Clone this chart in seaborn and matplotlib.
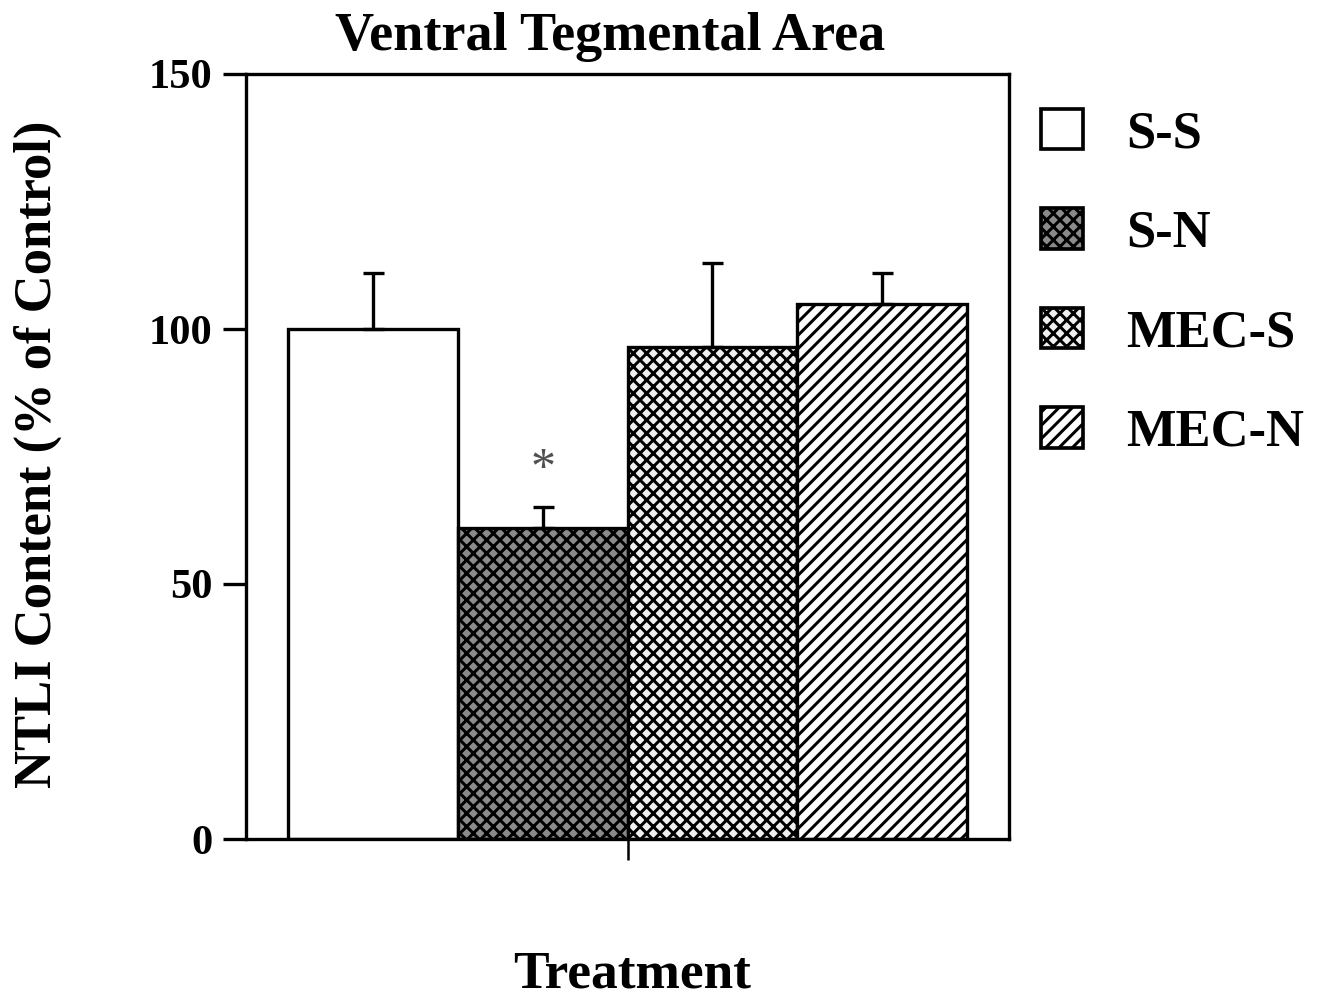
import matplotlib
matplotlib.use("Agg")
import matplotlib.pyplot as plt
import seaborn as sns
import pandas as pd
from matplotlib.patches import Patch

# ---- data ----
groups = ["S-S", "S-N", "MEC-S", "MEC-N"]
means = [100, 61, 96.5, 105]
sems = [11, 4, 16.5, 6]
yticks = [0, 50, 100, 150]
title = "Ventral Tegmental Area"
xlabel = "Treatment"
ylabel = "NTLI Content (% of Control)"

# ---- styles ----
faces = ["#ffffff", "#8a8a8a", "#f0f0f0", "#ffffff"]
hatches = ["", "xxx", "xxx", "///"]

sns.set_theme(style="white")
plt.rcParams["font.family"] = ["Liberation Serif", "DejaVu Serif"]
plt.rcParams["font.weight"] = "bold"
plt.rcParams["text.color"] = "black"
plt.rcParams["axes.labelcolor"] = "black"
plt.rcParams["xtick.color"] = "black"
plt.rcParams["ytick.color"] = "black"
plt.rcParams["hatch.linewidth"] = 1.8
plt.rcParams["hatch.color"] = "black"

DPI = 120
fig = plt.figure(figsize=(1319 / DPI, 998 / DPI), dpi=DPI)
ax = fig.add_axes([246 / 1319, 1 - 839 / 998, (1009 - 246) / 1319, (839 - 74) / 998])

df = pd.DataFrame({"Treatment": [""] * len(groups), "Group": groups, "Value": means})
sns.barplot(data=df, x="Treatment", y="Value", hue="Group", hue_order=groups,
            palette=faces, saturation=1, edgecolor="black", linewidth=2.0,
            errorbar=None, legend=False, ax=ax)

centers = []
for i, cont in enumerate(ax.containers):
    for p in cont.patches:
        p.set_hatch(hatches[i])
        p.set_facecolor(faces[i])
        p.set_edgecolor("black")
        centers.append(p.get_x() + p.get_width() / 2)

ax.errorbar(centers, means, yerr=[[0] * len(sems), sems], fmt="none",
            ecolor="black", elinewidth=2.0, capsize=6.3, capthick=2.0, zorder=5)

# significance marker above S-N
ax.text(centers[1], means[1] + sems[1] + 7.5, "*", ha="center", va="center",
        fontsize=30, fontweight="normal", color="#505050")

ax.set_ylim(0, 150)
ax.set_xlim(-0.45, 0.45)
ax.set_yticks(yticks)
ax.set_yticklabels([str(t) for t in yticks], fontsize=25.5, fontweight="bold", color="black")
ax.set_xticks([0])
ax.set_xticklabels([""])
ax.set_xlabel("")
ax.set_ylabel("")
ax.tick_params(axis="y", direction="out", length=14, width=2, pad=6, color="black", left=True)
ax.tick_params(axis="x", direction="out", length=12.5, width=1.5, color="black", bottom=True)
for s in ax.spines.values():
    s.set_visible(True)
    s.set_color("black")
    s.set_linewidth(2.0)

fig.text(610 / 1319, 1 - 50 / 998, title, ha="center", va="baseline",
         fontsize=32.5, fontweight="bold", color="black")
fig.text(632 / 1319, 1 - 988 / 998, xlabel, ha="center", va="baseline",
         fontsize=32, fontweight="bold", color="black")
fig.text(38 / 1319, 1 - 454 / 998, ylabel, ha="center", va="center", rotation=90,
         fontsize=31.6, fontweight="bold", color="black")

handles = [Patch(facecolor=faces[i], edgecolor="black", hatch=hatches[i], linewidth=2.2)
           for i in range(len(groups))]
leg = ax.legend(handles, groups, loc="upper left", bbox_to_anchor=(1041 / 1319, 1 - 109 / 998),
                bbox_transform=fig.transFigure, frameon=False, borderpad=0, borderaxespad=0,
                handlelength=0.8, handleheight=0.8, handletextpad=0.82, labelspacing=0.955,
                prop={"family": "Liberation Serif", "weight": "bold", "size": 31.5})
for t in leg.get_texts():
    t.set_color("black")

fig.savefig("out.png", dpi=DPI)
